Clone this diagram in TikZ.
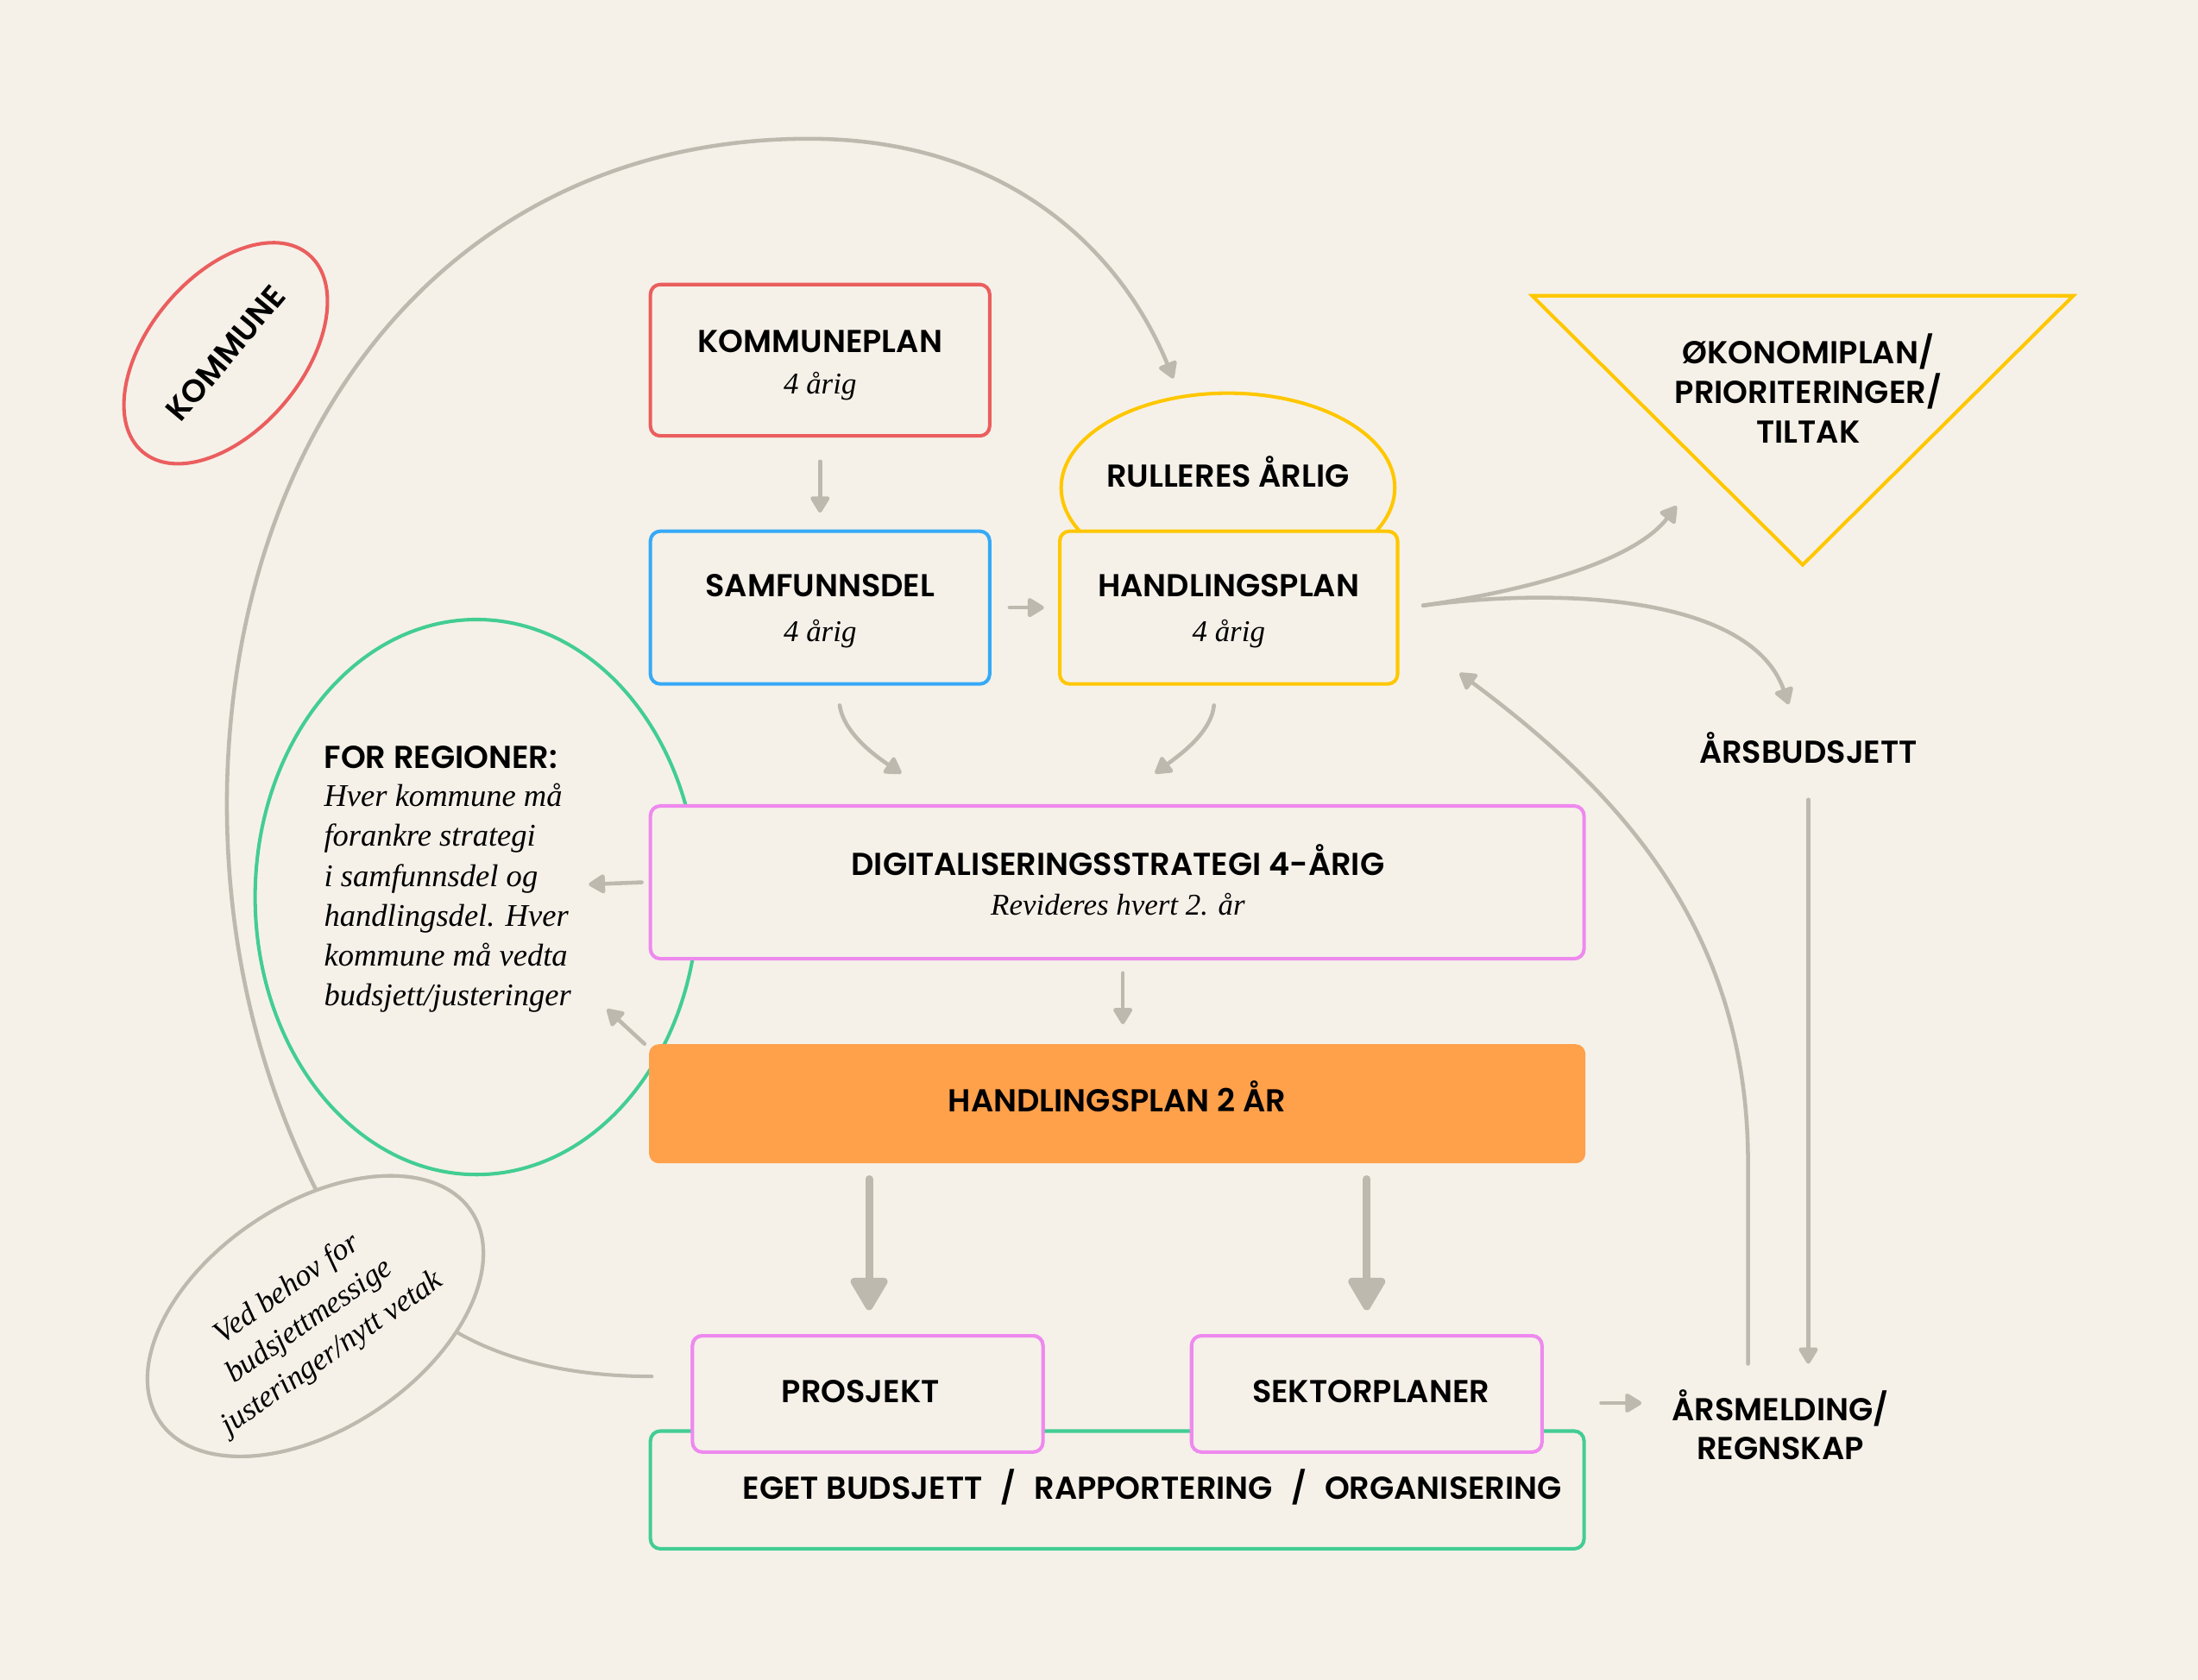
\documentclass[tikz,border=0pt]{standalone}
\usepackage{fontspec}
\setmainfont{Poppins}[BoldFont={Poppins SemiBold}]
\newfontfamily\itf{Liberation Serif}
\newcommand{\itx}{\itf\itshape}
\usetikzlibrary{arrows.meta,shapes.geometric}
\definecolor{bg}{HTML}{F5F1E9}
\definecolor{gr}{HTML}{BDB9AE}
\definecolor{rd}{HTML}{EB5E5E}
\definecolor{bl}{HTML}{36A9F7}
\definecolor{yl}{HTML}{FFC700}
\definecolor{pk}{HTML}{EE89EE}
\definecolor{gn}{HTML}{43CD93}
\definecolor{og}{HTML}{FFA04B}
\begin{document}
\begin{tikzpicture}[x=1pt,y=-1pt,
  box/.style={draw, line width=2.5pt, rounded corners=7pt, fill=bg, inner sep=0pt},
  ttl/.style={font=\fontsize{22.6}{28.3}\selectfont\bfseries, inner sep=0pt, text=black},
  sub/.style={font=\itx\fontsize{21.5}{28.4}\selectfont, inner sep=0pt, text=black},
  arr/.style={draw=gr, line width=2.8pt, line cap=round, -{Triangle[round,length=13pt,width=15pt]}},
  bigarr/.style={draw=gr, line width=5.5pt, line cap=round, -{Triangle[round,length=26pt,width=29pt]}},
  conn/.style={draw=gr, line width=2.5pt, line cap=round},
  oval/.style={ellipse, line width=2.5pt, inner sep=0pt, fill=bg}]
\fill[bg] (0,0) rectangle (1568,1198.6);
\useasboundingbox (0,0) rectangle (1568,1198.6);

\coordinate (vedc) at (225,939);
\coordinate (rulc) at (876,340);

% big arc and connector line
\draw[arr] ([shift={(3pt,85pt)}]vedc.center) .. controls (180,760) and (160,660) .. (162,560)
   .. controls (168,300) and (325,99) .. (577,99)
   .. controls (720,99) and (800,180) .. ([shift={(-39pt,70pt)}]rulc.center);

\node[oval, draw=gr, minimum width=268pt, minimum height=160pt, rotate=34] (ved) at (vedc) {};
\node[box, draw=pk, minimum width=250pt, minimum height=83pt] (prj) at (619,994.5) {};
\draw[conn] ([shift={(95pt,-8pt)}]ved.center) .. controls +(45,28) and +(-45,0) .. ([shift={(-154pt,12.5pt)}]prj.center);
\node[oval, draw=gr, minimum width=268pt, minimum height=160pt, rotate=34] at (vedc) {};

% KOMMUNE ellipse
\node[oval, draw=rd, minimum width=184pt, minimum height=110pt, rotate=50,
      font=\fontsize{22.6}{25}\selectfont\bfseries] (kom) at (161,252) {KOMMUNE};

% regions ellipse
\node[oval, draw=gn, minimum width=316pt, minimum height=396pt] (reg) at (340,640) {};

% boxes
\node[box, draw=rd, minimum width=242pt, minimum height=108pt] (kp) at (585,257) {};
\node[box, draw=bl, minimum width=242pt, minimum height=109pt] (sd) at (585,433.5) {};
\begin{scope}
  \clip (740,250) rectangle (1010,379);
  \draw[yl, line width=2.5pt] (876,348) ellipse [x radius=119, y radius=67.5];
\end{scope}
\node[box, draw=yl, minimum width=241pt, minimum height=109pt] (hp) at (876.5,433.5) {};
\draw[yl, line width=2.5pt, line join=miter] (1093,211) -- (1479,211) -- (1286,403) -- cycle;
\node[box, draw=pk, minimum width=666pt, minimum height=109pt] (dig) at (797,629.5) {};
\node[box, draw=none, fill=og, minimum width=668pt, minimum height=85pt] (hp2) at (797,787.5) {};
\node[box, draw=gn, minimum width=666pt, minimum height=84pt] (bot) at (797,1063) {};
\node[box, draw=pk, minimum width=250pt, minimum height=83pt] (prj2) at (619,994.5) {};
\node[box, draw=pk, minimum width=250pt, minimum height=83pt] (sek) at (975,994.5) {};

% texts
\node[ttl, anchor=base] (tkp) at (585,251.5) {KOMMUNEPLAN};
\node[sub, anchor=base] (skp) at (585,281) {4 årig};
\node[ttl, anchor=base] (tsd) at (585,426) {SAMFUNNSDEL};
\node[sub, anchor=base] (ssd) at (585,458) {4 årig};
\node[ttl, anchor=base] (thp) at (876.5,426) {HANDLINGSPLAN};
\node[sub, anchor=base] (shp) at (876.5,458) {4 årig};
\node[ttl, anchor=base] (trul) at (876,347.5) {RULLERES ÅRLIG};
\node[ttl, align=center] (oko) at (1290,277) {ØKONOMIPLAN/\\PRIORITERINGER/\\TILTAK};
\node[ttl, anchor=base] (ab) at (1290,544.5) {ÅRSBUDSJETT};
\node[ttl, align=center] (am) at (1270,1016.5) {ÅRSMELDING/\\REGNSKAP};
\node[ttl, anchor=base] (tdig) at (797.5,624.5) {DIGITALISERINGSSTRATEGI 4-ÅRIG};
\node[sub, anchor=base] (sdig) at (797.5,653) {Revideres hvert 2. år};
\node[ttl, anchor=base] (thp2) at (797,793.5) {HANDLINGSPLAN 2 ÅR};
\node[ttl, anchor=base] (tprj) at (614,1000.5) {PROSJEKT};
\node[ttl, anchor=base] (tsek) at (978,1000.5) {SEKTORPLANER};
\node[ttl, anchor=base] (tbot) at (822,1069.5) {EGET BUDSJETT\hspace{13pt}/\hspace{13pt}RAPPORTERING\hspace{13pt}/\hspace{13pt}ORGANISERING};
\node[ttl, anchor=base west] (treg) at (231,548) {FOR REGIONER:};
\node[sub, font=\itx\fontsize{22.5}{28.4}\selectfont, anchor=north west, align=left] (sreg) at (231,559) {Hver kommune må\\forankre strategi\\i samfunnsdel og\\handlingsdel. Hver\\kommune må vedta\\budsjett/justeringer};
\node[sub, font=\itx\fontsize{22}{28}\selectfont, align=center, rotate=35] (tved) at (221,943) {Ved behov for\\budsjettmessige\\justeringer/nytt vetak};

% connectors
\coordinate (okoin) at (1196,361);
\draw[arr] ([yshift=-17pt]kp.south) -- ([yshift=12pt]sd.north);
\draw[arr] ([xshift=13pt]sd.east) -- ([xshift=-10pt]hp.west);
\draw[arr] ([shift={(14pt,-14pt)}]sd.south) .. controls +(3,20) and +(-18,-12) .. ([shift={(-154pt,22pt)}]dig.north);
\draw[arr] ([shift={(-10.5pt,-14pt)}]hp.south) .. controls +(-2,20) and +(16,-12) .. ([shift={(27pt,22pt)}]dig.north);
\draw[arr] ([shift={(17pt,1.5pt)}]hp.east) .. controls +(96,-14) and +(-26,34) .. (okoin);
\draw[arr] ([shift={(17pt,1.5pt)}]hp.east) .. controls +(106,-14) and +(-26,-75) .. ([shift={(-14pt,42pt)}]ab.base);
\draw[arr] ([yshift=-26pt]ab.base) -- ([shift={(20pt,43.5pt)}]am.center);
\draw[arr] ([shift={(-23pt,43.5pt)}]am.center) -- ++(0,-143) .. controls +(0,-170) and +(110,82) .. ([shift={(43pt,9pt)}]hp.south east);
\draw[arr] ([xshift=-5pt]dig.west) -- ([shift={(80pt,9pt)}]reg.center);
\draw[arr] ([shift={(-2pt,-1pt)}]hp2.north west) -- ([shift={(93pt,-80pt)}]reg.center);
\draw[arr] ([shift={(4pt,-9pt)}]dig.south) -- ([shift={(4pt,13pt)}]hp2.north);
\draw[bigarr] ([shift={(-177pt,-10pt)}]hp2.south) -- ([shift={(1pt,17pt)}]prj2.north);
\draw[bigarr] ([shift={(178pt,-10pt)}]hp2.south) -- ([shift={(0pt,17pt)}]sek.north);
\draw[arr] ([shift={(41pt,-6.5pt)}]sek.east) -- ([shift={(-99pt,15.5pt)}]am.center);
\end{tikzpicture}
\end{document}
